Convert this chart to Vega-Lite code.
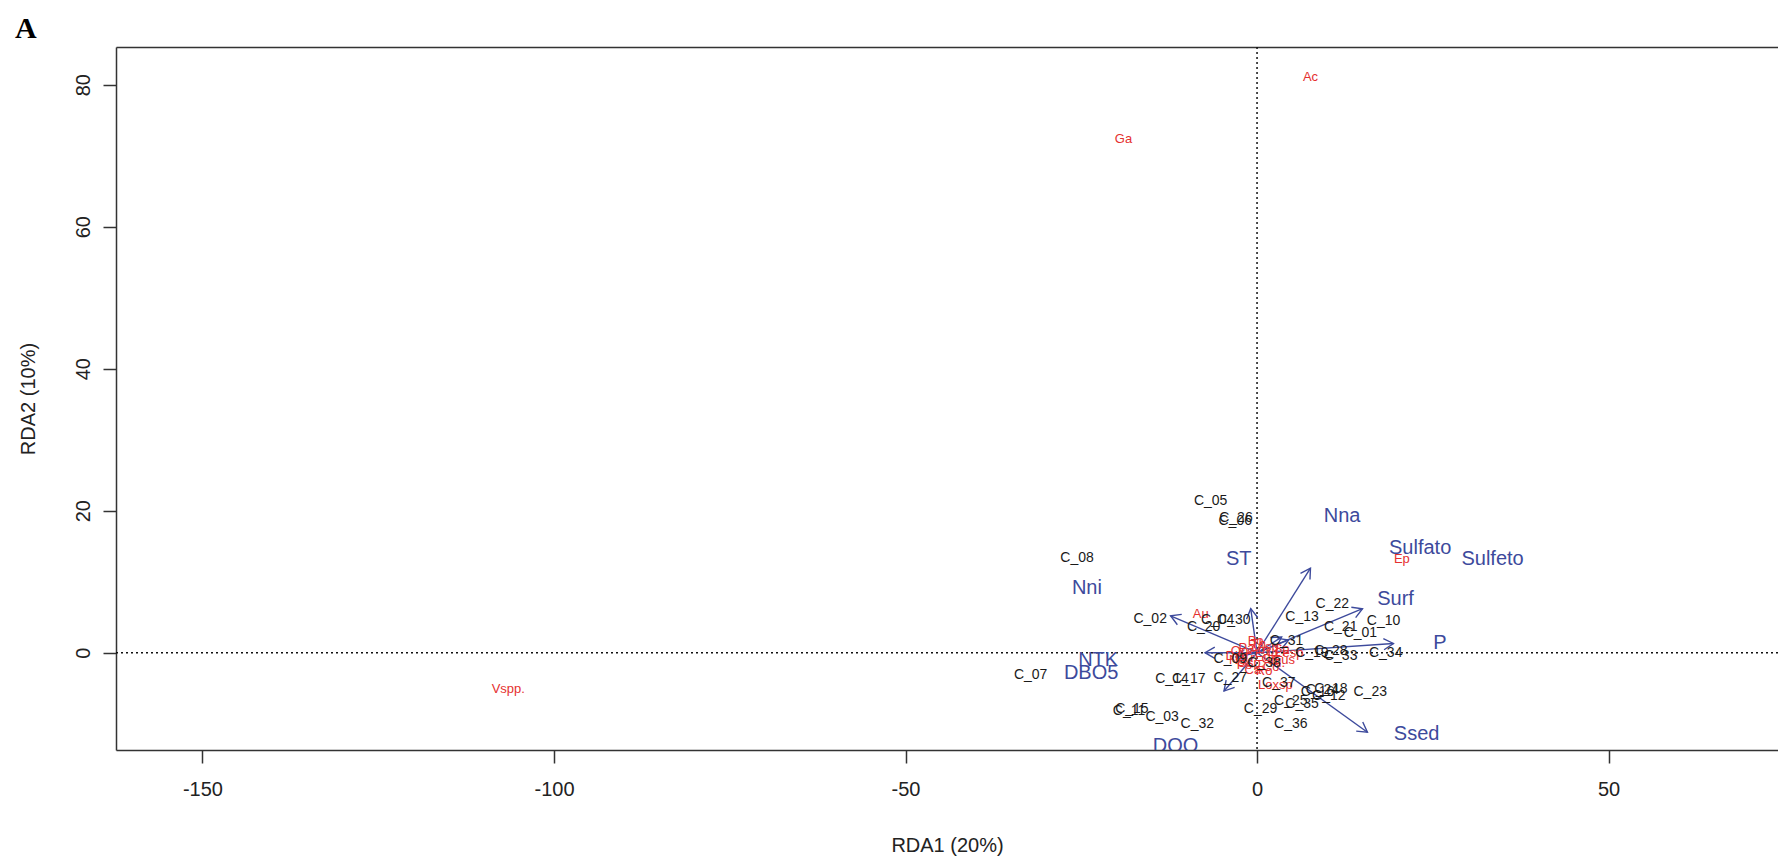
{
  "$schema": "https://vega.github.io/schema/vega-lite/v6.json",
  "width": 1662,
  "height": 703,
  "autosize": {"type": "none"},
  "padding": {"left": 116, "top": 47, "right": 0, "bottom": 108},
  "background": "white",
  "title": {"text": "A", "anchor": "start", "frame": "group", "font": "Liberation Serif", "fontSize": 30, "fontWeight": "bold", "color": "#000000", "dx": -101, "dy": 30, "offset": 8, "baseline": "alphabetic"},
  "config": {
    "view": {"stroke": null},
    "text": {"font": "Liberation Sans"},
    "axis": {"labelFont": "Liberation Sans", "titleFont": "Liberation Sans", "grid": false}
  },
  "datasets": {
    "sites": [
      {"label": "C_05", "x": -6.6, "y": 21.4},
      {"label": "C_26", "x": -3.0, "y": 19.0},
      {"label": "C_06", "x": -3.1, "y": 18.6},
      {"label": "C_08", "x": -25.6, "y": 13.3},
      {"label": "C_02", "x": -15.2, "y": 4.8},
      {"label": "C_20", "x": -7.6, "y": 3.6},
      {"label": "C_04", "x": -5.6, "y": 4.6},
      {"label": "C_30", "x": -3.3, "y": 4.6},
      {"label": "C_13", "x": 6.4, "y": 5.0},
      {"label": "C_22", "x": 10.7, "y": 6.9},
      {"label": "C_10", "x": 18.0, "y": 4.5},
      {"label": "C_21", "x": 11.9, "y": 3.6},
      {"label": "C_01", "x": 14.7, "y": 2.8},
      {"label": "C_31", "x": 4.2, "y": 1.6},
      {"label": "C_19", "x": 7.8, "y": -0.1},
      {"label": "C_28", "x": 10.5, "y": 0.3},
      {"label": "C_33", "x": 11.9, "y": -0.4},
      {"label": "C_34", "x": 18.3, "y": -0.1},
      {"label": "C_09", "x": -3.8, "y": -0.9},
      {"label": "C_38", "x": 1.0, "y": -1.5},
      {"label": "C_07", "x": -32.2, "y": -3.1},
      {"label": "C_14", "x": -12.1, "y": -3.7},
      {"label": "C_17", "x": -9.7, "y": -3.7},
      {"label": "C_27", "x": -3.8, "y": -3.5},
      {"label": "C_37", "x": 3.1, "y": -4.2},
      {"label": "C_24", "x": 9.3, "y": -5.2},
      {"label": "C_16", "x": 8.6, "y": -5.6},
      {"label": "C_12", "x": 10.2, "y": -6.1},
      {"label": "C_18", "x": 10.5, "y": -5.1},
      {"label": "C_23", "x": 16.1, "y": -5.6},
      {"label": "C_25", "x": 4.8, "y": -6.8},
      {"label": "C_35", "x": 6.4, "y": -7.2},
      {"label": "C_29", "x": 0.5, "y": -7.9},
      {"label": "C_36", "x": 4.8, "y": -10.0},
      {"label": "C_11", "x": -18.2, "y": -8.2},
      {"label": "C_15", "x": -17.8, "y": -7.9},
      {"label": "C_03", "x": -13.5, "y": -9.1},
      {"label": "C_32", "x": -8.5, "y": -10.0}
    ],
    "species": [
      {"label": "Ac", "x": 7.6, "y": 81.1},
      {"label": "Ga", "x": -19.0, "y": 72.3},
      {"label": "Vspp.", "x": -106.5, "y": -5.1},
      {"label": "Ep", "x": 20.6, "y": 13.2},
      {"label": "Au", "x": -8.0, "y": 5.4},
      {"label": "Bo", "x": -0.2, "y": 1.7},
      {"label": "Lesp", "x": 4.6, "y": -0.1},
      {"label": "Pl.", "x": 2.9, "y": -1.5},
      {"label": "Gsp.", "x": -0.9, "y": -1.5},
      {"label": "Loxsp", "x": 2.6, "y": -4.6},
      {"label": "Op", "x": -2.5, "y": 0.2},
      {"label": "Asp", "x": 1.5, "y": 0.8},
      {"label": "Ar", "x": -2.0, "y": -0.3},
      {"label": "Tr", "x": -1.2, "y": -0.8},
      {"label": "Eu", "x": 0.8, "y": -0.6},
      {"label": "Ch", "x": 1.8, "y": -0.9},
      {"label": "Pa", "x": -1.5, "y": 0.6},
      {"label": "Am", "x": 0.3, "y": 0.4},
      {"label": "Li", "x": 2.2, "y": 0.1},
      {"label": "Ca", "x": -0.6, "y": -2.4},
      {"label": "Ro", "x": 1.0, "y": -2.6},
      {"label": "Ne", "x": -2.8, "y": -1.0},
      {"label": "Sp", "x": 3.5, "y": 0.5},
      {"label": "Di", "x": -3.6, "y": -0.4},
      {"label": "Co", "x": 2.0, "y": -2.0},
      {"label": "Ps", "x": -1.8, "y": -1.8},
      {"label": "Eus", "x": 3.8, "y": -1.0},
      {"label": "Th", "x": 0.2, "y": 1.2}
    ],
    "env": [
      {"label": "Nna", "tx": 7.6, "ty": 11.9, "x": 12.1, "y": 19.2},
      {"label": "Sulfato", "tx": 3.5, "ty": 2.2, "x": 23.2, "y": 14.8},
      {"label": "Sulfeto", "tx": 4.5, "ty": 1.8, "x": 33.5, "y": 13.2},
      {"label": "ST", "tx": -0.9, "ty": 6.2, "x": -2.6, "y": 13.2},
      {"label": "Nni", "tx": -12.3, "ty": 5.2, "x": -24.2, "y": 9.1},
      {"label": "Surf", "tx": 15.0, "ty": 6.2, "x": 19.7, "y": 7.5},
      {"label": "P", "tx": 19.4, "ty": 1.3, "x": 26.0, "y": 1.4},
      {"label": "Ssed", "tx": 15.7, "ty": -11.2, "x": 22.7, "y": -11.4},
      {"label": "DQO", "tx": -4.7, "ty": -5.4, "x": -11.6, "y": -13.1},
      {"label": "NTK", "tx": -7.4, "ty": 0.0, "x": -22.6, "y": -1.0},
      {"label": "DBO5", "tx": -3.0, "ty": -0.6, "x": -23.6, "y": -2.9}
    ]
  },
  "resolve": {"axis": {"x": "independent", "y": "independent"}},
  "layer": [
    {
      "data": {"values": [{}]},
      "mark": {"type": "rule", "strokeDash": [2, 3], "strokeWidth": 1.5, "color": "#111111"},
      "encoding": {
        "y": {"datum": 0, "type": "quantitative", "scale": {"domain": [-13.7, 85.3], "nice": false, "zero": false}, "axis": null}
      }
    },
    {
      "data": {"values": [{}]},
      "mark": {"type": "rule", "strokeDash": [2, 3], "strokeWidth": 1.5, "color": "#111111"},
      "encoding": {
        "x": {"datum": 0, "type": "quantitative", "scale": {"domain": [-162.3, 74.1], "nice": false, "zero": false}, "axis": null}
      }
    },
    {
      "data": {"name": "env"},
      "mark": {"type": "rule", "strokeWidth": 1.4, "color": "#3d4a9c", "clip": true},
      "encoding": {
        "x": {"field": "tx", "type": "quantitative", "scale": {"domain": [-162.3, 74.1], "nice": false, "zero": false}, "axis": null},
        "y": {"field": "ty", "type": "quantitative", "scale": {"domain": [-13.7, 85.3], "nice": false, "zero": false}, "axis": null},
        "x2": {"datum": 0},
        "y2": {"datum": 0}
      }
    },
    {
      "data": {"name": "env"},
      "transform": [{"calculate": "atan2(datum.tx, datum.ty) * 180 / PI", "as": "ang"}],
      "mark": {"type": "point", "shape": "M-0.577,1L0,0L0.577,1", "filled": false, "size": 380, "strokeWidth": 1.4, "color": "#3d4a9c", "opacity": 1, "clip": true},
      "encoding": {
        "x": {"field": "tx", "type": "quantitative", "scale": {"domain": [-162.3, 74.1], "nice": false, "zero": false}, "axis": null},
        "y": {"field": "ty", "type": "quantitative", "scale": {"domain": [-13.7, 85.3], "nice": false, "zero": false}, "axis": null},
        "angle": {"field": "ang", "type": "quantitative", "scale": null}
      }
    },
    {
      "data": {"name": "species"},
      "mark": {"type": "text", "fontSize": 13, "color": "#e5302f", "align": "center", "baseline": "middle", "clip": true},
      "encoding": {
        "x": {"field": "x", "type": "quantitative", "scale": {"domain": [-162.3, 74.1], "nice": false, "zero": false},
              "axis": {"orient": "top", "title": null, "labels": false, "ticks": false, "domain": true, "domainColor": "#333333", "domainWidth": 1.5}},
        "y": {"field": "y", "type": "quantitative", "scale": {"domain": [-13.7, 85.3], "nice": false, "zero": false}, "axis": null},
        "text": {"field": "label"}
      }
    },
    {
      "data": {"name": "sites"},
      "mark": {"type": "text", "fontSize": 14, "color": "#1a1a1a", "align": "center", "baseline": "middle", "clip": true},
      "encoding": {
        "x": {"field": "x", "type": "quantitative", "scale": {"domain": [-162.3, 74.1], "nice": false, "zero": false},
              "axis": {"orient": "bottom", "title": "RDA1 (20%)", "values": [-150, -100, -50, 0, 50], "labelExpr": "datum.value < 0 ? '-' + abs(datum.value) : '' + datum.value", "labelFontSize": 20, "labelColor": "#222222", "labelPadding": 16, "tickSize": 13, "tickWidth": 1.5, "tickColor": "#333333", "domainColor": "#333333", "domainWidth": 1.5, "titleFontSize": 20, "titleFontWeight": "normal", "titleColor": "#222222", "titlePadding": 36, "labelFlush": false, "labelOverlap": false}},
        "y": {"field": "y", "type": "quantitative", "scale": {"domain": [-13.7, 85.3], "nice": false, "zero": false},
              "axis": {"orient": "left", "title": "RDA2 (10%)", "values": [0, 20, 40, 60, 80], "labelAngle": -90, "labelAlign": "center", "labelBaseline": "bottom", "labelFontSize": 20, "labelColor": "#222222", "labelPadding": 10, "tickSize": 13, "tickWidth": 1.5, "tickColor": "#333333", "domainColor": "#333333", "domainWidth": 1.5, "titleFontSize": 20, "titleFontWeight": "normal", "titleColor": "#222222", "titlePadding": 35, "labelFlush": false, "labelOverlap": false}},
        "text": {"field": "label"}
      }
    },
    {
      "data": {"name": "env"},
      "mark": {"type": "text", "fontSize": 20, "color": "#3d4a9c", "align": "center", "baseline": "middle", "clip": true},
      "encoding": {
        "x": {"field": "x", "type": "quantitative", "scale": {"domain": [-162.3, 74.1], "nice": false, "zero": false}, "axis": null},
        "y": {"field": "y", "type": "quantitative", "scale": {"domain": [-13.7, 85.3], "nice": false, "zero": false}, "axis": null},
        "text": {"field": "label"}
      }
    }
  ]
}
